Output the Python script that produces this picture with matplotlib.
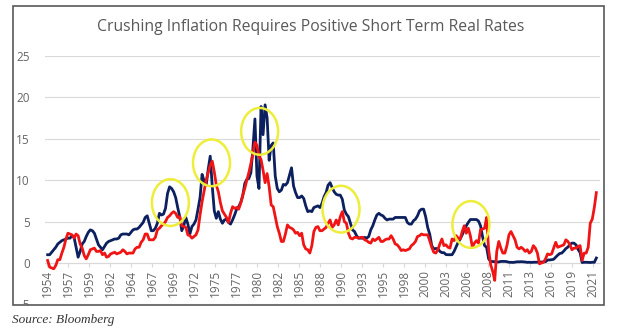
import matplotlib
matplotlib.use("Agg")
import matplotlib.pyplot as plt
import numpy as np
from matplotlib.patches import Ellipse, Rectangle

# quarterly series, Q3 1954 .. Q1 2022
start_year = 1954.5
fed_funds = [
    1.0, 1.0,
    1.3, 1.6, 1.9, 2.3,
    2.5, 2.7, 2.8, 2.9,
    3.0, 3.0, 3.3, 3.1,
    1.9, 0.7, 1.4, 2.3,
    2.6, 3.2, 3.7, 4.0,
    3.9, 3.6, 2.9, 2.2,
    1.9, 1.6, 2.0, 2.4,
    2.6, 2.7, 2.8, 2.9,
    2.9, 3.0, 3.4, 3.5,
    3.5, 3.5, 3.4, 3.7,
    4.0, 4.1, 4.1, 4.3,
    4.6, 4.9, 5.5, 5.7,
    4.8, 3.9, 3.9, 4.2,
    4.8, 6.0, 5.8, 5.9,
    6.6, 8.4, 9.2, 9.0,
    8.6, 7.9, 6.7, 5.6,
    3.9, 4.5, 5.5, 4.7,
    3.5, 4.4, 4.7, 5.2,
    6.5, 7.9, 10.7, 9.9,
    9.4, 11.3, 12.9, 9.3,
    6.3, 5.4, 6.2, 5.3,
    4.8, 5.2, 5.3, 4.9,
    4.7, 5.2, 5.8, 6.5,
    6.8, 7.3, 8.1, 9.6,
    10.1, 10.2, 10.9, 13.8,
    17.4, 10.5, 9.0, 18.9,
    15.5, 19.1, 17.5, 12.4,
    14.2, 14.5, 10.5, 9.0,
    8.6, 8.8, 9.5, 9.4,
    9.7, 10.6, 11.5, 9.3,
    8.5, 7.9, 7.9, 8.1,
    7.8, 6.9, 6.2, 6.3,
    6.2, 6.7, 6.8, 6.9,
    6.7, 7.2, 8.0, 8.5,
    9.4, 9.7, 9.1, 8.6,
    8.3, 8.2, 8.2, 7.7,
    6.4, 5.9, 5.6, 4.8,
    4.0, 3.8, 3.3, 3.0,
    3.0, 3.0, 3.1, 3.0,
    3.2, 4.0, 4.5, 5.2,
    5.8, 6.0, 5.8, 5.7,
    5.4, 5.2, 5.3, 5.3,
    5.3, 5.5, 5.5, 5.5,
    5.5, 5.5, 5.5, 4.9,
    4.7, 4.7, 5.1, 5.3,
    5.7, 6.3, 6.5, 6.5,
    5.6, 4.3, 3.5, 2.1,
    1.7, 1.75, 1.74, 1.4,
    1.25, 1.25, 1.02, 1.0,
    1.0, 1.0, 1.4, 1.95,
    2.5, 2.9, 3.4, 4.0,
    4.5, 4.9, 5.25, 5.25,
    5.26, 5.25, 5.07, 4.5,
    3.2, 2.1, 1.9, 0.5,
    0.18, 0.18, 0.16, 0.12,
    0.13, 0.19, 0.19, 0.19,
    0.16, 0.09, 0.08, 0.07,
    0.10, 0.15, 0.14, 0.16,
    0.14, 0.12, 0.08, 0.09,
    0.07, 0.09, 0.09, 0.10,
    0.11, 0.13, 0.13, 0.16,
    0.36, 0.37, 0.40, 0.45,
    0.70, 0.95, 1.15, 1.20,
    1.45, 1.74, 1.92, 2.22,
    2.40, 2.40, 2.19, 1.64,
    1.26, 0.06, 0.09, 0.09,
    0.08, 0.06, 0.09, 0.08,
    0.6,
]
cpi_yoy = [
    0.3, -0.5,
    -0.6, -0.7, -0.3, 0.4,
    0.4, 1.2, 1.9, 2.9,
    3.6, 3.5, 3.4, 3.0,
    3.5, 3.3, 2.3, 1.8,
    0.9, 0.5, 1.0, 1.6,
    1.7, 1.8, 1.4, 1.4,
    1.5, 1.0, 1.2, 0.7,
    0.8, 1.1, 1.2, 1.3,
    1.1, 1.2, 1.3, 1.6,
    1.4, 1.1, 1.2, 1.2,
    1.2, 1.7, 1.9, 1.9,
    2.5, 2.8, 3.5, 3.5,
    2.8, 2.8, 2.8, 3.1,
    4.0, 4.2, 4.5, 4.7,
    5.0, 5.5, 5.7, 6.0,
    6.2, 6.0, 5.5, 5.6,
    4.5, 4.4, 4.3, 3.4,
    3.3, 3.0, 3.2, 3.4,
    4.0, 5.8, 7.4, 8.7,
    10.0, 10.9, 11.8, 12.3,
    11.0, 9.4, 8.6, 7.3,
    6.3, 5.9, 5.5, 4.9,
    6.0, 6.8, 6.6, 6.7,
    6.5, 7.2, 8.2, 9.0,
    10.0, 10.9, 12.0, 13.2,
    14.6, 14.2, 12.9, 12.5,
    11.2, 9.7, 10.8, 9.2,
    7.0, 6.8, 5.6, 4.4,
    3.6, 2.6, 2.6, 3.5,
    4.6, 4.3, 4.2, 4.0,
    3.6, 3.7, 3.3, 3.6,
    2.2, 1.7, 1.6, 1.2,
    2.1, 3.8, 4.3, 4.4,
    3.9, 3.9, 4.1, 4.3,
    4.8, 5.2, 4.3, 4.6,
    5.2, 4.6, 5.6, 6.2,
    5.0, 4.8, 3.6, 3.0,
    2.9, 3.1, 3.1, 3.0,
    3.1, 3.1, 2.8, 2.7,
    2.5, 2.4, 2.9, 2.7,
    2.9, 3.1, 2.6, 2.6,
    2.8, 2.9, 2.9, 3.3,
    2.9, 2.3, 2.2, 1.9,
    1.5, 1.6, 1.5, 1.6,
    1.7, 2.1, 2.3, 2.6,
    3.2, 3.3, 3.5, 3.4,
    3.4, 3.4, 2.7, 1.9,
    1.3, 1.2, 1.6, 2.3,
    2.9, 2.1, 2.2, 1.9,
    1.8, 2.9, 2.7, 3.3,
    3.0, 2.9, 3.8, 4.5,
    3.6, 4.2, 3.3, 1.9,
    2.4, 2.7, 2.4, 4.0,
    4.1, 4.2, 5.5, 1.6,
    -0.2, -1.0, -2.1, 1.4,
    2.6, 1.8, 1.2, 1.2,
    2.1, 3.4, 3.8, 3.3,
    2.8, 1.9, 1.7, 1.9,
    1.7, 1.4, 1.6, 1.2,
    1.4, 2.1, 1.8, 1.2,
    -0.1, 0.0, 0.1, 0.5,
    1.1, 1.0, 1.1, 1.8,
    2.5, 1.9, 2.0, 2.1,
    2.2, 2.8, 2.6, 2.2,
    1.6, 1.8, 1.8, 2.0,
    2.1, 0.3, 1.2, 1.2,
    1.9, 4.8, 5.3, 6.7,
    8.5,
]
dates = start_year + 0.25 * np.arange(len(fed_funds))

tick_labels = ["1954", "1957", "1959", "1962", "1964", "1967", "1969", "1972",
               "1975", "1977", "1980", "1982", "1985", "1988", "1990", "1993",
               "1995", "1998", "2000", "2003", "2006", "2008", "2011", "2013",
               "2016", "2019", "2021"]
tick_pos = 1954 + (5 + 31 * np.arange(len(tick_labels))) / 12.0

# yellow highlight circles (centre year, centre value)
circle_x = [1969.6, 1974.66, 1980.58, 1990.59, 2006.57]
circle_y = [7.3, 12.1, 15.9, 6.5, 4.65]

W, H = 624, 335
fig = plt.figure(figsize=(W / 100, H / 100), dpi=100)
ax = fig.add_axes([45.2 / W, (H - 304.4) / H, (600 - 45.2) / W, (304.4 - 56) / H])

ax.plot(dates, fed_funds, color="#0c1f5e", lw=2.0, zorder=3)
ax.plot(dates, cpi_yoy, color="#f01414", lw=2.0, zorder=4)

for cx, cy in zip(circle_x, circle_y):
    ax.add_patch(Ellipse((cx, cy), 4.55, 5.65, fill=False, ec="#eeee3a", lw=1.8, zorder=5))

ax.set_xlim(1954.2, 2022.45)
ax.set_ylim(-5, 25)
ax.set_yticks([-5, 0, 5, 10, 15, 20, 25])
ax.set_yticklabels(["-5", "0", "5", "10", "15", "20", "25"])
ax.set_xticks(tick_pos)
ax.set_xticklabels(tick_labels)

ax.grid(axis="y", color="#d9d9d9", lw=0.8)
ax.set_axisbelow(True)
for s in ["top", "right", "left"]:
    ax.spines[s].set_visible(False)
ax.spines["bottom"].set_position(("data", 0))
ax.spines["bottom"].set_color("#d9d9d9")
ax.tick_params(axis="x", length=3, color="#d9d9d9", labelsize=8.5, labelcolor="#666666",
               pad=2, labelrotation=90)
ax.tick_params(axis="y", length=0, labelsize=8.5, labelcolor="#666666", pad=11)
for lab in ax.get_xticklabels() + ax.get_yticklabels():
    lab.set_family("Open Sans")

fig.text(311 / W, 1 - 27 / H, "Crushing Inflation Requires Positive Short Term Real Rates",
         ha="center", va="center", fontsize=11.3, color="#595959", family="Open Sans")

# white cover below the frame, then the frame itself
fig.patches.append(Rectangle((0, 0), 1, (H - 304.5) / H, transform=fig.transFigure,
                             fc="white", ec="none", zorder=10))
fig.patches.append(Rectangle((13 / W, (H - 304.5) / H), (604 - 13) / W, (304.5 - 6) / H,
                             transform=fig.transFigure, fill=False, ec="#595959", lw=1.2, zorder=11))

fig.text(12 / W, 1 - 320 / H, "Source: Bloomberg", ha="left", va="center",
         fontsize=9.5, style="italic", color="#333333", family="Liberation Serif", zorder=12)

fig.savefig("out.png", dpi=100)
